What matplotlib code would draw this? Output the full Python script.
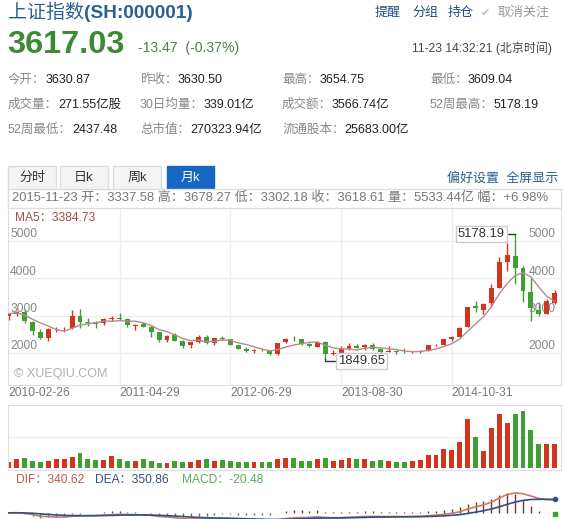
import numpy as np
import pandas as pd
import matplotlib
matplotlib.use('Agg')
import matplotlib.pyplot as plt
from matplotlib.patches import Rectangle
from matplotlib.text import Annotation

plt.rcParams['font.family'] = ['Liberation Sans', 'Noto Sans CJK SC', 'DejaVu Sans']

W, H = 566, 519
RED = '#d2341f'
GREEN = '#3f9f32'

# monthly candles, 2010-02 .. 2015-11
opens = [2983, 3051, 3110, 2835, 2573, 2395, 2637, 2640, 2662, 2988, 2837,
         2826, 2798, 2899, 2937, 2916, 2728, 2768, 2689, 2555, 2359, 2470, 2328,
         2212, 2286, 2427, 2259, 2396, 2370, 2220, 2100, 2048, 2085, 2071, 1976,
         2289, 2383, 2364, 2231, 2174, 2300, 1973, 1997, 2094, 2177, 2153, 2206,
         2112, 2034, 2057, 2033, 2022, 2036, 2046, 2203, 2213, 2364, 2425, 2705,
         3258, 3148, 3347, 3748, 4441, 4611, 4275, 3643, 3157, 3052, 3337.58]
highs = [3074, 3128, 3181, 2845, 2638, 2679, 2698, 2704, 3159, 3186, 2945,
         2856, 2942, 3001, 3067, 2929, 2771, 2826, 2715, 2563, 2470, 2536, 2346,
         2302, 2478, 2476, 2399, 2453, 2377, 2227, 2150, 2117, 2134, 2091, 2276,
         2389, 2444, 2363, 2268, 2334, 2314, 2092, 2198, 2270, 2242, 2244, 2260,
         2122, 2177, 2083, 2146, 2062, 2079, 2218, 2248, 2373, 2450, 2694, 3239,
         3406, 3347, 3835, 4572, 4958, 5178.19, 4318, 4006, 3357, 3459, 3678.27]
lows = [2890, 2995, 2803, 2481, 2382, 2319, 2574, 2574, 2642, 2680, 2721,
        2661, 2741, 2868, 2887, 2705, 2610, 2684, 2437, 2307, 2307, 2319, 2134,
        2132, 2266, 2242, 2227, 2348, 2218, 2100, 2037, 2001, 2063, 1959, 1949,
        2258, 2324, 2218, 2161, 2163, 1849.65, 1951, 1978, 2089, 2124, 2080, 2088,
        1984, 2030, 1974, 1997, 1991, 2010, 2043, 2183, 2206, 2310, 2392, 2702,
        3095, 3049, 3263, 3745, 4199, 3847, 3373, 2850, 2983, 3039, 3302.18]
closes = [3051, 3110, 2870, 2592, 2398, 2638, 2638, 2656, 2979, 2820, 2808,
          2790, 2905, 2928, 2911, 2743, 2762, 2701, 2567, 2359, 2468, 2333, 2199,
          2292, 2428, 2262, 2396, 2372, 2225, 2103, 2047, 2086, 2068, 1980, 2269,
          2385, 2365, 2236, 2177, 2301, 1979, 1994, 2098, 2175, 2142, 2220, 2116,
          2033, 2056, 2033, 2026, 2039, 2048, 2202, 2217, 2364, 2420, 2683, 3235,
          3210, 3310, 3748, 4441, 4612, 4277, 3664, 3206, 3053, 3383, 3618.61]
# volume, 100 million shares
vols = [1300, 2070, 2300, 1540, 1380, 1680, 2140, 2070, 2690, 3450, 2070,
        1910, 1910, 2830, 2140, 1680, 1540, 2070, 1680, 1150, 1150, 1540, 1380,
        1380, 1910, 2070, 1680, 1910, 1540, 1380, 1380, 1380, 1310, 1450, 2140,
        2400, 2300, 1700, 1600, 2000, 2300, 1700, 1900, 2400, 2000, 2000, 1600,
        1900, 1600, 1500, 1400, 1700, 1800, 3000, 3000, 4500, 4150, 6000, 11500,
        7200, 3900, 9500, 12800, 10600, 12800, 13400, 8900, 5650, 5650, 5533]

date_idx = [0, 14, 28, 42, 56]
date_labels = ['2010-02-26', '2011-04-29', '2012-06-29', '2013-08-30', '2014-10-31']
price_ticks = [2000, 3000, 4000, 5000]

stats = [
    [('今开：', '3630.87'), ('昨收：', '3630.50'), ('最高：', '3654.75'), ('最低：', '3609.04')],
    [('成交量：', '271.55亿股'), ('30日均量：', '339.01亿'), ('成交额：', '3566.74亿'), ('52周最高：', '5178.19')],
    [('52周最低：', '2437.48'), ('总市值：', '270323.94亿'), ('流通股本：', '25683.00亿')],
]

opens, highs, lows, closes, vols = map(np.array, (opens, highs, lows, closes, vols))
n = len(closes)
x = np.arange(n)
col = np.where(closes >= opens, RED, GREEN)

fig = plt.figure(figsize=(W / 100, H / 100), dpi=100)
fig.patch.set_facecolor('white')


def fbox(x0, y0, x1, y1):
    return [x0 / W, 1 - y1 / H, (x1 - x0) / W, (y1 - y0) / H]


def t(px, py, s, size=12, color='#333', **kw):
    kw.setdefault('va', 'center')
    return fig.text(px / W, 1 - py / H, s, fontsize=size * 0.72, color=color, **kw)


def rect(x0, y0, x1, y1, fc='white', ec='#dddddd', lw=1):
    fig.patches.append(Rectangle((x0 / W, 1 - y1 / H), (x1 - x0) / W, (y1 - y0) / H,
                                 transform=fig.transFigure, fc=fc, ec=ec, lw=lw))


# header
t(8, 13, '上证指数', 19, '#2a5f93')
t(84, 13, '(SH:000001)', 19, '#2a5f93', weight='bold')
for px, s in [(375, '提醒'), (412, '分组'), (448, '持仓')]:
    t(px, 13, s, 13, '#1f4f80')
t(481, 13, '✔', 11, '#bbbbbb')
t(497, 13, '取消关注', 13, '#999999')
t(7, 45, '3617.03', 32.5, '#3c8a36', weight='bold')
t(138, 48, '-13.47  (-0.37%)', 14, '#4f7f4f')
t(552, 48, '11-23 14:32:21 (北京时间)', 12, '#444', ha='right')

for row, yy in zip(stats, [80, 105, 130]):
    for (lab, val), xx in zip(row, [8, 140, 282, 430]):
        lt = t(xx, yy, lab, 12.5, '#888888')
        fig.add_artist(Annotation(val, xy=(1, 0.5), xycoords=lt, va='center', ha='left',
                                  fontsize=12.5 * 0.72, color='#222222'))

# tabs
tabs = [('分时', 8, 56), ('日k', 60, 108), ('周k', 113, 161), ('月k', 167, 214)]
for s, x0, x1 in tabs:
    sel = s == '月k'
    rect(x0, 166, x1, 190, fc='#1766c4' if sel else '#f4f4f4', ec='#1766c4' if sel else '#dcdcdc')
    t((x0 + x1) / 2, 178, s, 13, 'white' if sel else '#333', ha='center')
t(558, 178, '偏好设置  全屏显示', 13, '#2a5f93', ha='right')
rect(8, 189, 561, 208)
t(12, 198, '2015-11-23 开：3337.58 高：3678.27 低：3302.18 收：3618.61 量：5533.44亿 幅：+6.98%',
  13, '#777777')

# price panel
ax = fig.add_axes(fbox(8, 208, 561, 385))
ax.set_xlim(-0.1, n - 0.2)
ax.set_ylim(1143, 5884)
for v in price_ticks:
    ax.axhline(v, color='#eeeeee', lw=1, zorder=0)
    ax.text(0.004, v + 20, str(v), transform=ax.get_yaxis_transform(), ha='left', va='bottom',
            fontsize=12 * 0.72, color='#888888')
    ax.text(0.99, v + 20, str(v), transform=ax.get_yaxis_transform(), ha='right', va='bottom',
            fontsize=12 * 0.72, color='#888888')
for i in date_idx[1:]:
    ax.axvline(i, color='#eeeeee', lw=1, zorder=0)

ax.vlines(x, lows, highs, color=col, lw=1, zorder=2)
body_lo = np.minimum(opens, closes)
body_h = np.maximum(np.abs(closes - opens), 14)
ax.bar(x, body_h, bottom=body_lo, width=0.62, color=col, lw=0, zorder=3)

ma5 = pd.Series(closes).rolling(5, min_periods=1).mean()
ax.plot(x, ma5, color='#b88a8a', lw=1, zorder=4)

ihi = int(np.argmax(highs))
ilo = int(np.argmin(lows))
ax.plot([ihi - 0.9, ihi], [highs[ihi]] * 2, color='#333', lw=1, zorder=5)
ax.text(ihi - 1.3, highs[ihi], '%.2f' % highs[ihi], ha='right', va='center', fontsize=13 * 0.72,
        color='#333', zorder=6, bbox=dict(boxstyle='square,pad=0.15', fc='white', ec='#cccccc', lw=1))
ax.plot([ilo, ilo, ilo + 1.2], [lows[ilo], lows[ilo] - 60, lows[ilo] - 60], color='#333', lw=1, zorder=5)
ax.text(ilo + 1.6, lows[ilo] - 60, '%.2f' % lows[ilo], ha='left', va='center', fontsize=13 * 0.72,
        color='#333', zorder=6, bbox=dict(boxstyle='square,pad=0.15', fc='white', ec='#cccccc', lw=1))

ax.text(0.01, 0.045, '© XUEQIU.COM', transform=ax.transAxes, fontsize=12.5 * 0.72, color='#b0b0b0')
ax.set_xticks([])
ax.set_yticks([])
for sp in ax.spines.values():
    sp.set_color('#dddddd')
ax.spines['top'].set_visible(False)

t(15, 218, 'MA5：3384.73', 12, '#a0504a')
for i, s in zip(date_idx, date_labels):
    xp = 8 + (i + 0.1) * 553 / (n - 0.1)
    t(xp, 393, s, 12, '#777777')

# volume panel
axv = fig.add_axes(fbox(8, 405, 561, 470))
axv.set_xlim(-0.1, n - 0.2)
axv.set_ylim(-480, 14800)
axv.axhline(7300, color='#eeeeee', lw=1, zorder=0)
axv.bar(x, vols, width=0.62, color=col, lw=0)
axv.set_xticks([])
axv.set_yticks([])
for sp in axv.spines.values():
    sp.set_color('#dddddd')

# MACD panel
c = pd.Series(closes)
dif = c.ewm(span=12, adjust=False).mean() - c.ewm(span=26, adjust=False).mean()
dea = dif.ewm(span=9, adjust=False).mean()
macd = 2 * (dif - dea)

t(16, 480, 'DIF：%.2f' % 340.62, 12, '#c0574d')
t(95, 480, 'DEA：%.2f' % 350.86, 12, '#34507f')
t(182, 480, 'MACD：%.2f' % -20.48, 12, '#5fa85a')

axm = fig.add_axes(fbox(8, 486, 561, 519))
axm.set_xlim(-0.1, n - 0.2)
axm.set_ylim(-160, 700)
axm.vlines(x, 0, macd, color=np.where(macd >= 0, '#7a3a2a', '#3f7f3f'), lw=1)
axm.plot(x, dif, color='#c87a6a', lw=1.2)
axm.plot(x, dea, color='#2f4f86', lw=1.2)
axm.plot([x[-1]], [dea.iloc[-1]], 'o', color='#2f4f86', ms=3)
axm.plot([x[-1]], [macd.iloc[-1]], 's', color=GREEN, ms=2.5)
axm.axis('off')

fig.savefig('out.png', dpi=100, facecolor='white')
